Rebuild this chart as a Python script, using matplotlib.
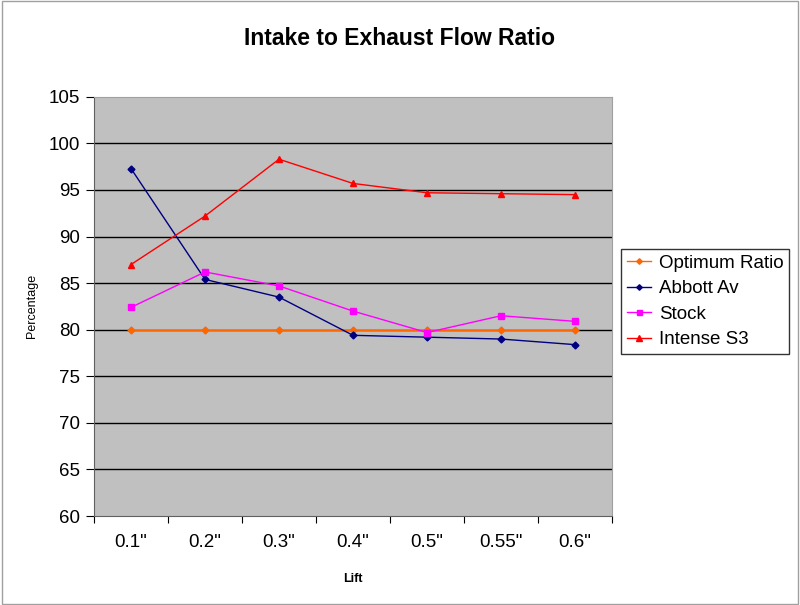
import matplotlib
matplotlib.use("Agg")
import matplotlib.pyplot as plt
import numpy as np

plt.rcParams['font.family'] = ['Liberation Sans', 'DejaVu Sans']

lifts = ['0.1"', '0.2"', '0.3"', '0.4"', '0.5"', '0.55"', '0.6"']
optimum = [80, 80, 80, 80, 80, 80, 80]
abbott = [97.3, 85.4, 83.5, 79.4, 79.2, 79.0, 78.4]
stock = [82.4, 86.2, 84.7, 82.0, 79.7, 81.5, 80.9]
intense = [87.0, 92.2, 98.3, 95.7, 94.7, 94.6, 94.5]
yticks = [60, 65, 70, 75, 80, 85, 90, 95, 100, 105]

fig = plt.figure(figsize=(8, 6.05), dpi=100)
ax = fig.add_axes([0.1175, 0.147, 0.6475, 0.693])
ax.set_facecolor('#C0C0C0')

x = np.arange(len(lifts))
ax.plot(x, optimum, color='#FF6600', marker='D', markersize=3.5, lw=1, label='Optimum Ratio')
ax.plot(x, abbott, color='#000080', marker='D', markersize=3.5, lw=1, label='Abbott Av')
ax.plot(x, stock, color='#FF00FF', marker='s', markersize=4.5, lw=1, label='Stock')
ax.plot(x, intense, color='#FF0000', marker='^', markersize=5, lw=1, label='Intense S3')

ax.set_xlim(-0.5, len(lifts) - 0.5)
ax.set_ylim(60, 105)
ax.set_yticks(yticks)
for y in yticks[1:-1]:
    ax.axhline(y, color='black', lw=1, zorder=0.5)
ax.set_xticks(np.arange(-0.5, len(lifts), 1))
ax.set_xticklabels([])
ax.set_xticks(x, minor=True)
ax.set_xticklabels(lifts, minor=True)
ax.tick_params(axis='x', which='minor', length=0, labelsize=13.5, pad=13)
ax.tick_params(axis='x', which='major', length=5, color='#000000')
ax.tick_params(axis='y', length=6, labelsize=13.5, pad=4)

for s in ['top', 'right']:
    ax.spines[s].set_color('#A0A0A0')
for s in ['left', 'bottom']:
    ax.spines[s].set_color('#606060')

fig.text(0.5, 0.937, 'Intake to Exhaust Flow Ratio', fontsize=16.5, fontweight='bold',
         ha='center', va='center')
ax.set_xlabel('Lift', fontsize=9, fontweight='bold', labelpad=16)
ax.set_ylabel('Percentage', fontsize=9, labelpad=8)

leg = fig.legend(loc='upper left', bbox_to_anchor=(0.765, 0.604), fontsize=13.5,
                 frameon=True, fancybox=False, handlelength=1.3, handletextpad=0.4,
                 borderpad=0.3, labelspacing=0.45, markerscale=0.8)
leg.get_frame().set_edgecolor('black')
leg.get_frame().set_linewidth(1)

fig.patches.append(plt.Rectangle((0.002, 0.002), 0.996, 0.996, transform=fig.transFigure,
                                 fill=False, edgecolor='#A0A0A0', lw=1))

fig.savefig('out.png', dpi=100)
